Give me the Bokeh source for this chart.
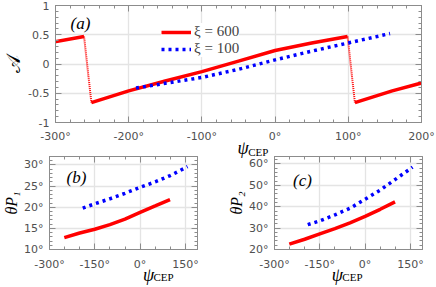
import math
from bokeh.plotting import figure
from bokeh.layouts import column, row
from bokeh.models import FixedTicker, LinearAxis, Label, Legend, LegendItem, Range1d, Grid, ColumnDataSource
from bokeh.core.properties import value
from bokeh.embed import file_html
from bokeh.resources import INLINE

# ---------------- data ----------------
psi_red = [-251, -200, -150, -100, -50, 0, 50, 99]
psi_blue = [-190, -150, -100, -50, 0, 50, 100, 157]
asym_red = [-0.66, -0.46, -0.29, -0.13, 0.05, 0.23, 0.36, 0.47]
asym_blue = [-0.41, -0.33, -0.23, -0.09, 0.07, 0.22, 0.36, 0.52]
theta1_red = [12.8, 13.9, 14.8, 15.9, 17.2, 18.8, 20.3, 21.8]
theta1_blue = [19.8, 20.8, 22.0, 23.3, 24.7, 26.0, 27.5, 29.6]
theta2_red = [22.5, 24.8, 27.3, 29.8, 32.5, 35.5, 38.8, 42.3]
theta2_blue = [31.6, 33.4, 36.2, 39.3, 43.5, 47.8, 52.8, 58.5]
period = 360
legend_labels = ["\u03be = 600", "\u03be = 100"]

xticks_a = [-300, -200, -100, 0, 100, 200]
xlabels_a = ["-300\u00b0", "-200\u00b0", "-100\u00b0", "0\u00b0", "100\u00b0", "200\u00b0"]
yticks_a = [-1, -0.5, 0, 0.5, 1]
ylabels_a = ["-1", "-0.5", "0", "0.5", "1"]
xticks_bc = [-300, -150, 0, 150]
xlabels_bc = ["-300\u00b0", "-150\u00b0", "0\u00b0", "150\u00b0"]
yticks_b = [10, 15, 20, 25, 30]
ylabels_b = ["10\u00b0", "15\u00b0", "20\u00b0", "25\u00b0", "30\u00b0"]
yticks_c = [20, 30, 40, 50, 60]
ylabels_c = ["20\u00b0", "30\u00b0", "40\u00b0", "50\u00b0", "60\u00b0"]
ytitle_a = "\U0001D49C"
ytitle_b = "\u03b8P\u2081"
ytitle_c = "\u03b8P\u2082"

# x-axis titles: text pieces, page-pixel centres (x, y from top), size, style
title_text = ["\u03c8", "CEP", "\u03c8", "CEP", "\u03c8", "CEP"]
title_px = [223.5, 241.5, 111, 128.7, 335.7, 353.7]
title_py = [147.5, 151, 274, 276.7, 274, 276.7]
title_size = ["18px", "11px", "18px", "11px", "18px", "11px"]
title_style = ["italic", "normal", "italic", "normal", "italic", "normal"]

RED = "#ff0000"
BLUE = "#0000ff"
AX = "#8c8c8c"
GRID = "#e4e4e4"
TICKLAB = "#505050"
SERIF = "Liberation Serif"
W, H = 436, 287


def axis(ticks, labels, minor, show, standoff, title=None, tsize="16px", tstyle="italic"):
    ax = LinearAxis(
        ticker=FixedTicker(ticks=ticks, minor_ticks=minor),
        axis_line_color=AX, major_tick_line_color=AX, minor_tick_line_color=AX,
        major_tick_in=6, major_tick_out=0, minor_tick_in=3, minor_tick_out=0,
        major_label_text_font="DejaVu Sans",
    )
    if show:
        ax.major_label_overrides = {t: l for t, l in zip(ticks, labels)}
        ax.major_label_standoff = standoff
        ax.major_label_text_font_size = "11px"
        ax.major_label_text_color = TICKLAB
    else:
        ax.major_label_overrides = {t: "" for t in ticks}
        ax.major_label_standoff = 0
        ax.major_label_text_font_size = "1px"
        ax.major_label_text_color = None
    if title is not None:
        ax.axis_label = title
        ax.axis_label_text_font = SERIF
        ax.axis_label_text_font_size = tsize
        ax.axis_label_text_font_style = tstyle
        ax.axis_label_text_color = "black"
        ax.axis_label_standoff = 1
    return ax


def frange(a, b, s):
    out = []
    v = a
    while v <= b + 1e-9:
        out.append(round(v, 6))
        v += s
    return out


def make_fig(w, h, xr, yr, borders, xt, xl, xmin, yt, yl, ymin, xstand, ystand, ytitle, tsize, tstyle):
    p = figure(width=w, height=h, x_range=Range1d(*xr), y_range=Range1d(*yr), title=None,
               x_axis_type=None, y_axis_type=None, output_backend="svg",
               toolbar_location=None, min_border_left=borders[0], min_border_right=borders[1],
               min_border_top=borders[2], min_border_bottom=borders[3])
    p.outline_line_color = AX
    p.background_fill_color = "white"
    p.border_fill_color = "white"
    p.add_layout(Grid(dimension=0, ticker=FixedTicker(ticks=xt), grid_line_color=GRID, grid_line_width=1.3))
    p.add_layout(Grid(dimension=1, ticker=FixedTicker(ticks=yt), grid_line_color=GRID, grid_line_width=1.3))
    p.add_layout(axis(xt, xl, xmin, True, xstand), "below")
    p.add_layout(axis(yt, yl, ymin, True, ystand, ytitle, tsize, tstyle), "left")
    p.add_layout(axis(xt, xl, xmin, False, 0), "above")
    p.add_layout(axis(yt, yl, ymin, False, 0), "right")
    return p


def lab(p, text, x, y, size, xo=0, yo=0):
    p.add_layout(Label(x=x, y=y, x_offset=xo, y_offset=yo, text=text, text_font=SERIF,
                       text_font_size=size, text_font_style="italic", text_align="center",
                       text_baseline="middle", text_color="black"))


# ---------------- panel (a) ----------------
pa = make_fig(W, 152, (-300, 200), (-1, 1), (51, 15, 5, 30),
              xticks_a, xlabels_a, frange(-300, 200, 20), yticks_a, ylabels_a, frange(-1, 1, 0.1), 7, 6,
              ytitle_a, "19px", "normal")

red_main = None
for shift in (-period, 0, period):
    r = pa.line([x + shift for x in psi_red], asym_red, line_color=RED, line_width=3.5)
    if shift == 0:
        red_main = r
# dotted jumps between periodic copies
pa.segment(x0=[psi_red[-1] - period, psi_red[-1]], y0=[asym_red[-1], asym_red[-1]],
           x1=[psi_red[0], psi_red[0] + period], y1=[asym_red[0], asym_red[0]],
           line_color=RED, line_width=2, line_dash="1 1")
blue_main = pa.line(psi_blue, asym_blue, line_color=BLUE, line_width=3.5, line_dash="3 4")

leg = Legend(items=[LegendItem(label=legend_labels[0], renderers=[red_main]),
                    LegendItem(label=legend_labels[1], renderers=[blue_main])],
             location=(106, 65), padding=6, spacing=0, margin=0, glyph_width=30, glyph_height=14,
             label_height=14, label_standoff=3, label_text_font=SERIF, label_text_font_size="15px",
             label_text_font_style="normal",
             background_fill_color="white", background_fill_alpha=1.0, border_line_color=None)
pa.add_layout(leg)
lab(pa, "(a)", -300, 1, "17px", xo=25, yo=-18)

# ---------------- panel (b) ----------------
pb = make_fig(218, 135, (-300, 190), (10, 32), (49, 21, 4, 38),
              xticks_bc, xlabels_bc, frange(-300, 150, 50), yticks_b, ylabels_b, frange(10, 32, 1), 8, 6,
              ytitle_b, "16px", "italic")
pb.line(psi_red, theta1_red, line_color=RED, line_width=3.5)
pb.line(psi_blue, theta1_blue, line_color=BLUE, line_width=3.5, line_dash="3 4")
lab(pb, "(b)", -300, 32, "17px", xo=27, yo=-20.5)

# ---------------- panel (c) ----------------
pc = make_fig(218, 135, (-300, 190), (20, 63.5), (56, 14, 4, 38),
              xticks_bc, xlabels_bc, frange(-300, 150, 50), yticks_c, ylabels_c, frange(20, 62, 2), 8, 6,
              ytitle_c, "16px", "italic")
pc.line(psi_red, theta2_red, line_color=RED, line_width=3.5)
pc.line(psi_blue, theta2_blue, line_color=BLUE, line_width=3.5, line_dash="3 4")
lab(pc, "(c)", -300, 63.5, "17px", xo=28, yo=-23.5)

# ---------------- transparent overlay holding the x-axis titles (page pixels) ----------------
ann = figure(width=W, height=H, x_range=Range1d(0, W), y_range=Range1d(H, 0), title=None,
             x_axis_type=None, y_axis_type=None, output_backend="svg", toolbar_location=None,
             min_border=0, min_border_left=0, min_border_right=0, min_border_top=0, min_border_bottom=0,
             margin=(-H, 0, 0, 0))
ann.outline_line_color = None
ann.background_fill_alpha = 0
ann.border_fill_alpha = 0
src = ColumnDataSource(dict(x=title_px, y=title_py, text=title_text, size=title_size, style=title_style))
ann.text(x="x", y="y", text="text", source=src, text_font=value(SERIF),
         text_font_size="size", text_font_style="style", text_align="center",
         text_baseline="middle", text_color="black")

layout = column(pa, row(pb, pc, spacing=0), ann, spacing=0)

open("out.html", "w").write(file_html(layout, INLINE))
